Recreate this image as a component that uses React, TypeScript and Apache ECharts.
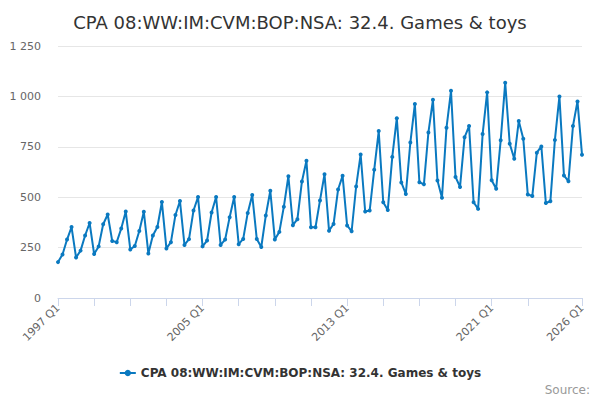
import React, { useEffect, useRef } from "react";
import * as echarts from "echarts";

const TITLE = "CPA 08:WW:IM:CVM:BOP:NSA: 32.4. Games & toys";
const SERIES_NAME = "CPA 08:WW:IM:CVM:BOP:NSA: 32.4. Games & toys";

const START_YEAR = 1997;
const END_YEAR = 2026;

const categories: string[] = [];
for (let y = START_YEAR; y <= END_YEAR; y++) {
  for (let q = 1; q <= 4; q++) {
    if (y === END_YEAR && q > 1) break;
    categories.push(`${y} Q${q}`);
  }
}

const values1997to2003 = [
  178, 216, 290, 352, 201, 235, 310, 372, 218, 256, 366, 414, 283, 277, 345, 429,
  241, 258, 332, 428, 221, 310, 352, 476, 246, 277, 412, 481,
];
const values2004to2011 = [
  263, 292, 434, 501, 256, 285, 424, 501, 263, 290, 401, 501, 267, 293, 422, 511,
  293, 253, 409, 532, 290, 328, 453, 604, 361, 391, 578, 681, 351, 351, 484, 614,
];
const values2012to2018 = [
  334, 367, 538, 606, 360, 331, 553, 712, 429, 434, 636, 828, 475, 437, 700, 892,
  573, 516, 771, 962, 574, 564, 821, 983, 583, 497, 844, 1028,
];
const values2019to2026 = [
  600, 551, 797, 853, 475, 442, 813, 1020, 584, 542, 782, 1068, 765, 691, 878, 790,
  513, 506, 721, 752, 471, 480, 784, 1000, 608, 579, 853, 975, 711,
];

const seriesValues = [
  ...values1997to2003,
  ...values2004to2011,
  ...values2012to2018,
  ...values2019to2026,
];

const yTicks = [0, 250, 500, 750, 1000, 1250];

const LINE_COLOR = "#0a79c0";
const FONT = "DejaVu Sans, Verdana, sans-serif";

function fmt(v: number): string {
  return String(v).replace(/\B(?=(\d{3})+(?!\d))/g, " ");
}

export default function App() {
  const ref = useRef<HTMLDivElement>(null);

  useEffect(() => {
    if (!ref.current) return;
    const chart = echarts.init(ref.current, undefined, { renderer: "svg" });
    const last = categories.length - 1;
    chart.setOption({
      animation: false,
      backgroundColor: "#ffffff",
      textStyle: { fontFamily: FONT },
      title: {
        text: TITLE,
        left: "center",
        top: 8,
        textStyle: {
          fontFamily: FONT,
          fontSize: 18,
          fontWeight: "normal",
          color: "#333333",
        },
      },
      legend: {
        bottom: 16,
        left: "center",
        itemWidth: 16,
        itemHeight: 8,
        itemGap: 4,
        textStyle: {
          fontFamily: FONT,
          fontSize: 12,
          fontWeight: "bold",
          color: "#333333",
        },
        data: [SERIES_NAME],
      },
      graphic: [
        {
          type: "text",
          right: 10,
          bottom: 4,
          style: {
            text: "Source:",
            fontFamily: FONT,
            fontSize: 12,
            fill: "#999999",
          },
        },
      ],
      grid: { left: 58, right: 18, top: 46, bottom: 102, containLabel: false },
      xAxis: {
        type: "category",
        data: categories,
        boundaryGap: false,
        axisLine: { lineStyle: { color: "#ccd6eb" } },
        axisTick: {
          length: 8,
          lineStyle: { color: "#ccd6eb" },
          interval: (i: number) => (i % 8 === 0 && i <= 104) || i === last,
        },
        axisLabel: {
          rotate: 45,
          fontFamily: FONT,
          fontSize: 11,
          color: "#666666",
          margin: 8,
          interval: (i: number) => i % 32 === 0 || i === last,
        },
        splitLine: { show: false },
      },
      yAxis: {
        type: "value",
        min: yTicks[0],
        max: yTicks[yTicks.length - 1],
        interval: 250,
        axisLine: { show: false },
        axisTick: { show: false },
        axisLabel: {
          fontFamily: FONT,
          fontSize: 11,
          color: "#666666",
          margin: 17,
          formatter: (v: number) => fmt(v),
        },
        splitLine: { lineStyle: { color: "#e6e6e6" } },
      },
      series: [
        {
          name: SERIES_NAME,
          type: "line",
          data: seriesValues,
          symbol: "circle",
          symbolSize: 4,
          showSymbol: true,
          showAllSymbol: true,
          lineStyle: { color: LINE_COLOR, width: 2 },
          itemStyle: { color: LINE_COLOR },
        },
      ],
    });
    return () => chart.dispose();
  }, []);

  return (
    <div
      ref={ref}
      style={{ position: "absolute", left: 0, top: 0, width: 600, height: 400 }}
    />
  );
}
